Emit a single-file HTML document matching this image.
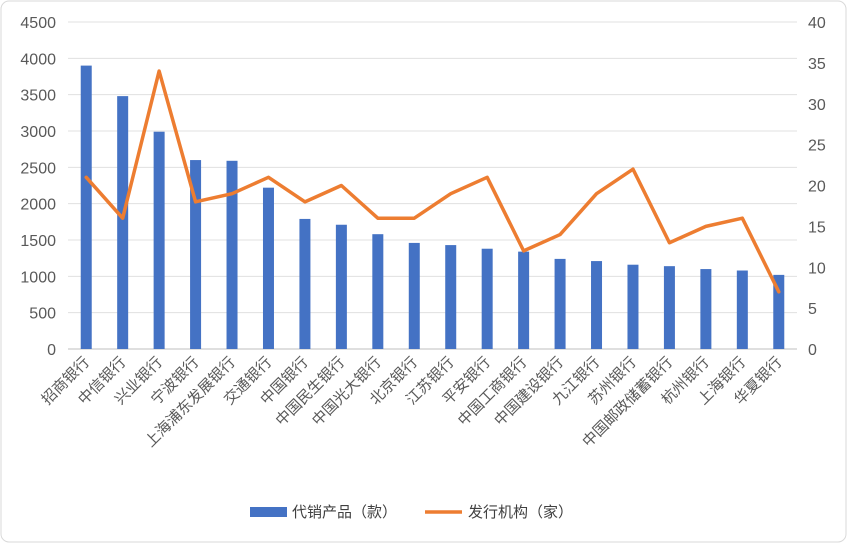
<!DOCTYPE html>
<html><head><meta charset="utf-8"><style>
body{margin:0;background:#fff;}
svg{display:block;font-family:"Liberation Sans","Noto Sans CJK SC",sans-serif;}
</style></head><body>
<svg id="chart" width="847" height="543">
<rect x="1" y="1" width="845" height="541" rx="8" fill="#fff" stroke="#d9d9d9"/>
<g id="grid"></g><g id="bars"></g><g id="line"></g><g id="axes"></g>
<g>
<rect x="250" y="507" width="37" height="10" fill="#4472c4"/>
<text x="292" y="517" font-size="15" fill="#404040">代销产品（款）</text>
<line x1="425" y1="512" x2="462" y2="512" stroke="#ed7d31" stroke-width="3.5"/>
<text x="468" y="517" font-size="15" fill="#404040">发行机构（家）</text>
</g>
</svg>
<script>
const categories=["招商银行","中信银行","兴业银行","宁波银行","上海浦东发展银行","交通银行","中国银行","中国民生银行","中国光大银行","北京银行","江苏银行","平安银行","中国工商银行","中国建设银行","九江银行","苏州银行","中国邮政储蓄银行","杭州银行","上海银行","华夏银行"];
const products=[3900,3480,2990,2600,2590,2220,1790,1710,1580,1460,1430,1380,1340,1240,1210,1160,1140,1100,1080,1020];
const issuers=[21,16,34,18,19,21,18,20,16,16,19,21,12,14,19,22,13,15,16,7];
const leftTicks=[0,500,1000,1500,2000,2500,3000,3500,4000,4500];
const rightTicks=[0,5,10,15,20,25,30,35,40];
const NS="http://www.w3.org/2000/svg";
const x0=68,x1=797,yb=349,yt=22;
const yL=v=>yb-v/4500*(yb-yt);
const yR=v=>yb-v/40*(yb-yt);
const step=(x1-x0)/categories.length;
const xc=i=>x0+step*(i+0.5);
function mk(t,a,p){const e=document.createElementNS(NS,t);for(const k in a)e.setAttribute(k,a[k]);p.appendChild(e);return e;}
const grid=document.getElementById('grid'),axes=document.getElementById('axes');
leftTicks.forEach(v=>{
 const l=mk('line',{x1:x0,x2:x1,y1:yL(v),y2:yL(v),stroke:v===0?'#bfbfbf':'#e0e0e0','stroke-width':1},grid);
 
 
 const t=mk('text',{x:56,y:yL(v)+6,'text-anchor':'end','font-size':16,fill:'#595959'},axes);
 t.textContent=v;
 
 
});
rightTicks.forEach(v=>{
 const t=mk('text',{x:808,y:yR(v)+6,'font-size':16,fill:'#595959'},axes);
 t.textContent=v;
 
 
});
const bars=document.getElementById('bars');
products.forEach((v,i)=>{
 const r=mk('rect',{x:xc(i)-5.5,y:yL(v),width:11,height:yb-yL(v),fill:'#4472c4'},bars);
 
 
});
categories.forEach((c,i)=>{
 const x=xc(i)+4,y=363;
 const t=mk('text',{x:x,y:y,'text-anchor':'end','font-size':15,fill:'#595959',transform:`rotate(-45 ${x} ${y})`},axes);
 t.textContent=c;
 
 
});
const pts=issuers.map((v,i)=>xc(i)+','+yR(v)).join(' ');
const pl=mk('polyline',{points:pts,fill:'none',stroke:'#ed7d31','stroke-width':3.5,'stroke-linejoin':'round','stroke-linecap':'round'},document.getElementById('line'));


</script>
</body></html>
